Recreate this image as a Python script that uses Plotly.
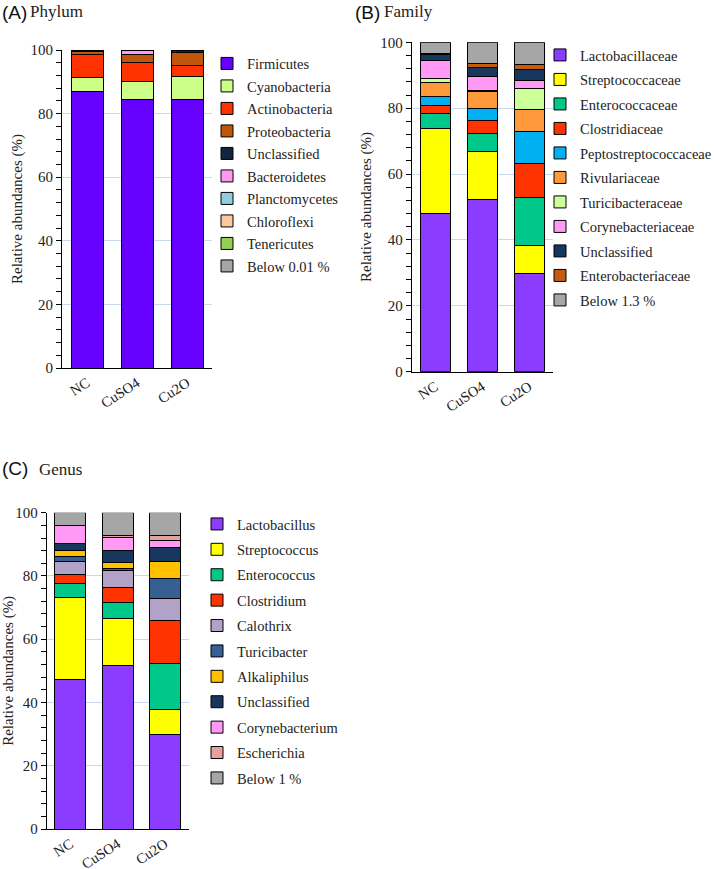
import plotly.graph_objects as go

W, H = 714, 869

categories = ["NC", "CuSO4", "Cu2O"]

# ---- (A) Phylum ----
phylum_names = ["Firmicutes", "Cyanobacteria", "Actinobacteria", "Proteobacteria",
                "Unclassified", "Bacteroidetes", "Planctomycetes", "Chloroflexi",
                "Tenericutes", "Below 0.01 %"]
firmicutes = [87.1, 84.5, 84.5]
cyanobacteria = [4.4, 5.6, 7.1]
actinobacteria = [7.1, 6.1, 3.6]
proteobacteria = [0.9, 2.3, 4.0]
unclassified_p = [0.3, 0.2, 0.8]
bacteroidetes = [0.1, 1.2, 0.0]
planctomycetes = [0.05, 0.05, 0.0]
chloroflexi = [0.03, 0.03, 0.0]
tenericutes = [0.02, 0.02, 0.0]
below_p = [0.0, 0.0, 0.0]
phylum_values = [firmicutes, cyanobacteria, actinobacteria, proteobacteria, unclassified_p,
                 bacteroidetes, planctomycetes, chloroflexi, tenericutes, below_p]
phylum_colors = ["#6600FF", "#CCFF88", "#FF3300", "#C0560C", "#14233F",
                 "#FF99F0", "#92CDDC", "#FCC89E", "#92D050", "#A6A6A6"]

# ---- (B) Family ----
family_names = ["Lactobacillaceae", "Streptococcaceae", "Enterococcaceae", "Clostridiaceae",
                "Peptostreptococcaceae", "Rivulariaceae", "Turicibacteraceae",
                "Corynebacteriaceae", "Unclassified", "Enterobacteriaceae", "Below 1.3 %"]
lactobacillaceae = [47.9, 52.3, 29.9]
streptococcaceae = [26.0, 14.7, 8.3]
enterococcaceae = [4.5, 5.3, 14.8]
clostridiaceae = [2.5, 4.1, 10.3]
peptostreptococcaceae = [2.7, 3.4, 9.5]
rivulariaceae = [4.3, 5.2, 6.9]
turicibacteraceae = [1.2, 0.4, 6.3]
corynebacteriaceae = [5.3, 4.3, 2.5]
unclassified_f = [2.0, 2.7, 3.1]
enterobacteriaceae = [0.3, 1.1, 1.7]
below_f = [3.3, 6.5, 6.7]
family_values = [lactobacillaceae, streptococcaceae, enterococcaceae, clostridiaceae,
                 peptostreptococcaceae, rivulariaceae, turicibacteraceae,
                 corynebacteriaceae, unclassified_f, enterobacteriaceae, below_f]
family_colors = ["#8C3CFF", "#FFFF00", "#00C88A", "#FF3300", "#00B0F0", "#FF9A3C",
                 "#CCFF99", "#FF99F5", "#17375E", "#C55A11", "#A6A6A6"]

# ---- (C) Genus ----
genus_names = ["Lactobacillus", "Streptococcus", "Enterococcus", "Clostridium", "Calothrix",
               "Turicibacter", "Alkaliphilus", "Unclassified", "Corynebacterium",
               "Escherichia", "Below 1 %"]
lactobacillus = [47.3, 51.7, 29.9]
streptococcus = [25.8, 14.8, 7.9]
enterococcus = [4.6, 5.2, 14.6]
clostridium = [2.9, 4.8, 13.6]
calothrix = [4.1, 5.3, 6.8]
turicibacter = [1.4, 0.5, 6.3]
alkaliphilus = [2.1, 2.1, 5.6]
unclassified_g = [2.2, 3.6, 4.3]
corynebacterium = [5.4, 4.1, 2.3]
escherichia = [0.3, 0.6, 1.5]
below_g = [3.9, 7.3, 7.2]
genus_values = [lactobacillus, streptococcus, enterococcus, clostridium, calothrix,
                turicibacter, alkaliphilus, unclassified_g, corynebacterium,
                escherichia, below_g]
genus_colors = ["#8C3CFF", "#FFFF00", "#00C88A", "#FF3300", "#B3A2C7", "#376092",
                "#FFC000", "#17375E", "#FF99F5", "#E6A0A0", "#A6A6A6"]

y_ticks = [0, 20, 40, 60, 80, 100]

SERIF = "Liberation Serif"
SANS = "Liberation Sans"

fig = go.Figure()

panels = [
    ("", phylum_names, phylum_values, phylum_colors, "legend", 0.64),
    ("2", family_names, family_values, family_colors, "legend2", 0.64),
    ("3", genus_names, genus_values, genus_colors, "legend3", 0.65),
]
for suffix, names, values, colors, leg, bw in panels:
    for i, (nm, vals, col) in enumerate(zip(names, values, colors)):
        fig.add_trace(go.Bar(
            x=categories, y=vals, name=nm,
            marker=dict(color=col, line=dict(color="#000000", width=1)),
            width=bw,
            xaxis="x" + suffix, yaxis="y" + suffix,
            legend=leg, legendgroup=leg + str(i),
            hovertemplate=nm + ": %{y}<extra></extra>",
        ))


def px_x(p):
    return p / W


def px_y(p):
    return 1 - p / H


def xaxis_cfg(x0, x1, anchor):
    return dict(domain=[px_x(x0), px_x(x1)], anchor=anchor, range=[-0.5, 2.5],
                automargin=False,
                showline=True, linecolor="#000000", linewidth=1,
                ticks="", tickangle=-33,
                tickfont=dict(family=SERIF, size=14.5, color="#222222"),
                showgrid=False, zeroline=False, fixedrange=True)


def yaxis_cfg(y0, y100, anchor):
    return dict(domain=[px_y(y0), px_y(y100)], anchor=anchor, range=[0, 100],
                automargin=False,
                tickvals=y_ticks, showline=True, linecolor="#000000", linewidth=1,
                ticks="outside", ticklen=5, tickcolor="#000000",
                minor=dict(dtick=4, ticks="outside", ticklen=5, tickcolor="#000000",
                           showgrid=False),
                showgrid=True, gridcolor="#C6D9F1", gridwidth=1, zeroline=False,
                tickfont=dict(family=SERIF, size=15, color="#222222"),
                title=dict(text="Relative abundances (%)",
                           font=dict(family=SERIF, size=15, color="#222222"),
                           standoff=4),
                fixedrange=True)


leg_common = dict(xanchor="left", yanchor="top", bgcolor="rgba(0,0,0,0)",
                  font=dict(family=SERIF, size=14.5, color="#222222"),
                  traceorder="grouped", itemclick=False, itemdoubleclick=False)

fig.update_layout(
    width=W, height=H,
    margin=dict(l=0, r=0, t=0, b=0, autoexpand=False),
    paper_bgcolor="white", plot_bgcolor="white",
    barmode="stack", bargap=0.36,
    showlegend=True,
    xaxis=xaxis_cfg(62, 212, "y"),
    yaxis=yaxis_cfg(368, 50, "x"),
    xaxis2=xaxis_cfg(411.7, 552.7, "y2"),
    yaxis2=yaxis_cfg(371.7, 42.3, "x2"),
    xaxis3=xaxis_cfg(46.7, 188.7, "y3"),
    yaxis3=yaxis_cfg(829, 512.7, "x3"),
    legend=dict(x=px_x(207), y=px_y(47.5), tracegroupgap=0.65, **leg_common),
    legend2=dict(x=px_x(540), y=px_y(39), tracegroupgap=2.65, **leg_common),
    legend3=dict(x=px_x(197), y=px_y(508), tracegroupgap=3.55, **leg_common),
)

titles = [
    (0, 0, "(A)", "Phylum", 28, "top"),
    (353, 0, "(B)", "Family", 382, "top"),
    (0, 481, "(C)", "Genus", 37, "bottom"),
]
for x0, ypos, lab, word, xw, anc in titles:
    fig.add_annotation(x=px_x(x0), y=px_y(ypos), xref="paper", yref="paper",
                       xanchor="left", yanchor=anc, showarrow=False,
                       text=lab, font=dict(family=SANS, size=19, color="#111111"))
    fig.add_annotation(x=px_x(xw), y=px_y(ypos), xref="paper", yref="paper",
                       xanchor="left", yanchor=anc, showarrow=False,
                       text=word, font=dict(family=SERIF, size=17, color="#222222"))

post = (
    "document.documentElement.style.margin='0';"
    "document.body.style.margin='0';document.body.style.padding='0';"
    "document.body.style.overflow='hidden';"
    "var gd=document.getElementById('{plot_id}');"
    "gd.style.position='absolute';gd.style.left='0px';gd.style.top='0px';"
)
fig.write_html("out.html", post_script=post, config={"displayModeBar": False})
